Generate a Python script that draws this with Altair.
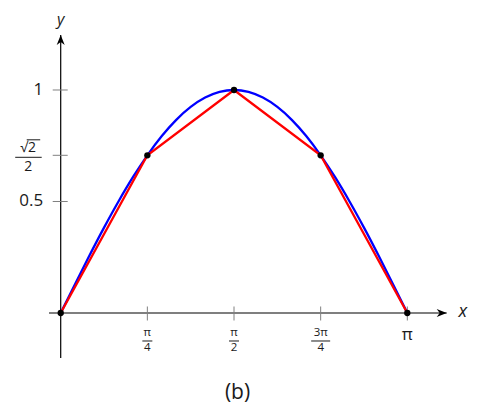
import altair as alt
import pandas as pd

# blue curve: y = sin x, values read/typed at steps of pi/24
curve_x = [0.0, 0.1309, 0.2618, 0.3927, 0.5236, 0.6545, 0.7854, 0.9163, 1.0472,
           1.1781, 1.3090, 1.4399, 1.5708, 1.7017, 1.8326, 1.9635, 2.0944, 2.2253,
           2.3562, 2.4871, 2.6180, 2.7489, 2.8798, 3.0107, 3.1416]
curve_y = [0.0, 0.1305, 0.2588, 0.3827, 0.5, 0.6088, 0.7071, 0.7934, 0.8660,
           0.9239, 0.9659, 0.9914, 1.0, 0.9914, 0.9659, 0.9239, 0.8660, 0.7934,
           0.7071, 0.6088, 0.5, 0.3827, 0.2588, 0.1305, 0.0]

# red polyline and black points
poly_x = [0.0, 0.7854, 1.5708, 2.3562, 3.1416]
poly_y = [0.0, 0.7071, 1.0, 0.7071, 0.0]

# tick values and labels
x_tick_vals = [0.7854, 1.5708, 2.3562, 3.1416]
x_tick_num = ["π", "π", "3π", ""]
x_tick_den = ["4", "2", "4", ""]
x_tick_plain = ["", "", "", "π"]
y_tick_vals = [0.5, 0.7071, 1.0]
y_tick_plain = ["0.5", "", "1"]
y_tick_num = ["", "√2", ""]
y_tick_den = ["", "2", ""]

# axis extents
x_axis_min, x_axis_max = -0.106, 3.4986
y_axis_min, y_axis_max = -0.2018, 1.2466

xs = alt.Scale(domain=[-0.4777, 3.7551], nice=False, zero=False)
ys = alt.Scale(domain=[-0.3991, 1.3318], nice=False, zero=False)

FONT = "Open Sans"
TXT = "#1a1a1a"


def X(f="x"):
    return alt.X(f"{f}:Q", scale=xs, axis=None)


def Y(f="y"):
    return alt.Y(f"{f}:Q", scale=ys, axis=None)


curve_df = pd.DataFrame({"x": curve_x, "y": curve_y})
poly_df = pd.DataFrame({"x": poly_x, "y": poly_y})

xt = pd.DataFrame({"x": x_tick_vals, "y": [0.0] * len(x_tick_vals),
                   "num": x_tick_num, "den": x_tick_den, "plain": x_tick_plain})
yt = pd.DataFrame({"x": [0.0] * len(y_tick_vals), "y": y_tick_vals,
                   "num": y_tick_num, "den": y_tick_den, "plain": y_tick_plain})
xt_frac = xt[xt["num"] != ""]
xt_plain = xt[xt["plain"] != ""]
yt_frac = yt[yt["num"] != ""]
yt_plain = yt[yt["plain"] != ""]

xaxis_df = pd.DataFrame({"x": [x_axis_min], "x2": [x_axis_max], "y": [0.0]})
yaxis_df = pd.DataFrame({"x": [0.0], "y": [y_axis_min], "y2": [y_axis_max]})
xtip = pd.DataFrame({"x": [x_axis_max], "y": [0.0]})
ytip = pd.DataFrame({"x": [0.0], "y": [y_axis_max]})

layers = []

# axes
layers.append(alt.Chart(xaxis_df).mark_rule(color="black", strokeWidth=1.2)
              .encode(x=X(), x2="x2:Q", y=Y()))
layers.append(alt.Chart(yaxis_df).mark_rule(color="black", strokeWidth=1.2)
              .encode(x=X(), y=Y(), y2="y2:Q"))
layers.append(alt.Chart(xtip).mark_point(filled=True, color="black", opacity=1, size=100,
                                         shape="M-2,-0.8L0,0L-2,0.8L-1.4,0Z")
              .encode(x=X(), y=Y()))
layers.append(alt.Chart(ytip).mark_point(filled=True, color="black", opacity=1, size=100,
                                         shape="M-0.8,2L0,0L0.8,2L0,1.4Z")
              .encode(x=X(), y=Y()))

# ticks
layers.append(alt.Chart(xt).mark_rule(color="#808080", strokeWidth=1, yOffset=-6.5, y2Offset=7.5)
              .encode(x=X(), y=Y(), y2="y:Q"))
layers.append(alt.Chart(yt).mark_rule(color="#808080", strokeWidth=1, xOffset=-8, x2Offset=7)
              .encode(x=X(), x2="x:Q", y=Y()))

# axis names
layers.append(alt.Chart(xtip).mark_text(text="x", font=FONT, fontSize=18, fontStyle="italic",
                                        align="center", baseline="middle", dx=16, dy=-1, color=TXT)
              .encode(x=X(), y=Y()))
layers.append(alt.Chart(ytip).mark_text(text="y", font=FONT, fontSize=16, fontStyle="italic",
                                        align="center", baseline="middle", dy=-15, color=TXT)
              .encode(x=X(), y=Y()))

# x tick labels
layers.append(alt.Chart(xt_frac).mark_text(font=FONT, fontSize=11.5, align="center", baseline="middle",
                                           dy=20.5, color=TXT)
              .encode(x=X(), y=Y(), text="num:N"))
layers.append(alt.Chart(xt_frac).mark_text(font=FONT, fontSize=11.5, align="center", baseline="middle",
                                           dy=35.5, color=TXT)
              .encode(x=X(), y=Y(), text="den:N"))
layers.append(alt.Chart(xt_plain).mark_text(font=FONT, fontSize=17, align="center", baseline="middle",
                                            dy=22, color=TXT)
              .encode(x=X(), y=Y(), text="plain:N"))
xt_short = xt_frac[xt_frac["num"].str.len() == 1]
xt_long = xt_frac[xt_frac["num"].str.len() == 2]
layers.append(alt.Chart(xt_short).mark_rule(color=TXT, strokeWidth=1, yOffset=28, y2Offset=28,
                                            xOffset=-5, x2Offset=5)
              .encode(x=X(), x2="x:Q", y=Y(), y2="y:Q"))
layers.append(alt.Chart(xt_long).mark_rule(color=TXT, strokeWidth=1, yOffset=28, y2Offset=28,
                                           xOffset=-9.5, x2Offset=9.5)
              .encode(x=X(), x2="x:Q", y=Y(), y2="y:Q"))

# y tick labels
layers.append(alt.Chart(yt_plain).mark_text(font=FONT, fontSize=17, align="right", baseline="middle",
                                            dx=-17.5, color=TXT)
              .encode(x=X(), y=Y(), text="plain:N"))
layers.append(alt.Chart(yt_frac).mark_text(font=FONT, fontSize=14, align="center", baseline="middle",
                                           dx=-32.5, dy=-7.5, color=TXT)
              .encode(x=X(), y=Y(), text="num:N"))
layers.append(alt.Chart(yt_frac).mark_text(font=FONT, fontSize=14, align="center", baseline="middle",
                                           dx=-32.5, dy=11.5, color=TXT)
              .encode(x=X(), y=Y(), text="den:N"))
layers.append(alt.Chart(yt_frac).mark_rule(color=TXT, strokeWidth=1, yOffset=2, y2Offset=2,
                                           xOffset=-45.5, x2Offset=-19)
              .encode(x=X(), x2="x:Q", y=Y(), y2="y:Q"))
layers.append(alt.Chart(yt_frac).mark_rule(color=TXT, strokeWidth=1, yOffset=-15.5, y2Offset=-15.5,
                                           xOffset=-34, x2Offset=-20.5)
              .encode(x=X(), x2="x:Q", y=Y(), y2="y:Q"))

# data
layers.append(alt.Chart(curve_df).mark_line(color="#0000ff", strokeWidth=2.3, interpolate="monotone")
              .encode(x=X(), y=Y()))
layers.append(alt.Chart(poly_df).mark_line(color="#ff0000", strokeWidth=2.3)
              .encode(x=X(), y=Y()))
layers.append(alt.Chart(poly_df).mark_circle(color="black", opacity=1, size=40)
              .encode(x=X(), y=Y()))

# caption
cap = pd.DataFrame({"x": [1.5708], "y": [0.0]})
layers.append(alt.Chart(cap).mark_text(text="(b)", font=FONT, fontSize=21, align="center",
                                       baseline="middle", dx=3.5, dy=80, color=TXT)
              .encode(x=X(), y=Y()))

chart = alt.layer(*layers).properties(
    width=467, height=386,
    padding={"left": 0, "top": 8, "right": 0, "bottom": 8},
    autosize=alt.AutoSizeParams(type="none"),
).configure_view(stroke=None)

chart.save("out.html", embed_options={"renderer": "svg", "actions": False})
